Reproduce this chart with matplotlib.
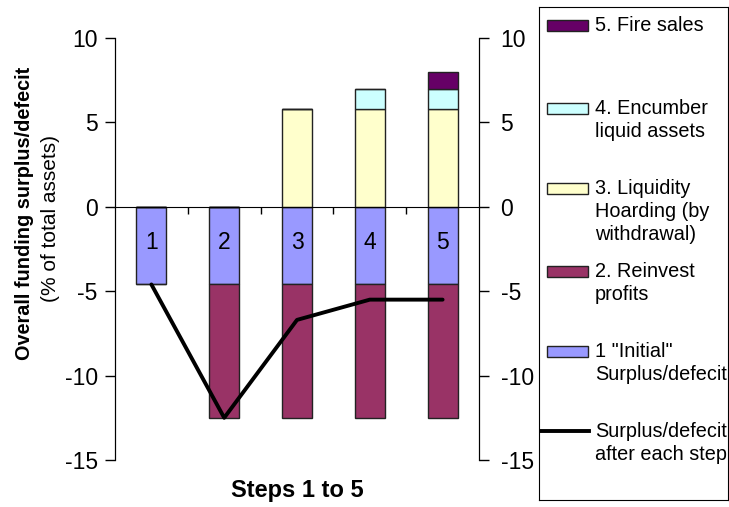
#
# Funding surplus/defecit after each step - stacked bars with running line
#

import matplotlib
matplotlib.use('Agg')
import numpy as np
import matplotlib.pyplot as plt
from matplotlib.patches import Rectangle
from matplotlib.lines import Line2D

plt.rc('font', family=['Liberation Sans', 'DejaVu Sans'])
plt.rc('axes', unicode_minus=False)

# Data (% of total assets)
steps = [1, 2, 3, 4, 5]
initial = [-4.6, -4.6, -4.6, -4.6, -4.6]
reinvest = [0.0, -7.9, -7.9, -7.9, -7.9]
hoarding = [0.0, 0.0, 5.8, 5.8, 5.8]
encumber = [0.0, 0.0, 0.0, 1.2, 1.2]
fire_sales = [0.0, 0.0, 0.0, 0.0, 1.0]
after_step = [-4.6, -12.5, -6.7, -5.5, -5.5]

series_labels = ['5. Fire sales', '4. Encumber\nliquid assets',
                 '3. Liquidity\nHoarding (by\nwithdrawal)', '2. Reinvest\nprofits',
                 '1 "Initial"\nSurplus/defecit']
line_label = 'Surplus/defecit\nafter each step'
colors = ['#660066', '#CCFFFF', '#FFFFCC', '#993366', '#9999FF']

W, H = 729, 507
fig = plt.figure(figsize=(W / 100, H / 100), dpi=100)
ax = fig.add_axes([115 / W, 47 / H, 364 / W, 422 / H])

x = np.array(steps)
bw = 0.41
ec = '#222222'
ax.bar(x, initial, bw, color=colors[4], edgecolor=ec, linewidth=1, zorder=2)
ax.bar(x, reinvest, bw, bottom=initial, color=colors[3], edgecolor=ec, linewidth=1, zorder=2)
ax.bar(x, hoarding, bw, color=colors[2], edgecolor=ec, linewidth=1, zorder=2)
bottom4 = np.array(hoarding)
ax.bar(x, encumber, bw, bottom=bottom4, color=colors[1], edgecolor=ec, linewidth=1, zorder=2)
bottom5 = bottom4 + np.array(encumber)
ax.bar(x, fire_sales, bw, bottom=bottom5, color=colors[0], edgecolor=ec, linewidth=1, zorder=2)
ax.plot(x, after_step, color='black', linewidth=2.8, zorder=4, solid_capstyle='round')

# step numbers inside the initial bars
for xi, v in zip(x, initial):
    ax.text(xi, v / 2 + 0.2, str(xi), ha='center', va='center', fontsize=16.5, zorder=3)

ax.set_xlim(0.5, 5.5)
ax.set_ylim(-15, 10)
ax.set_yticks([-15, -10, -5, 0, 5, 10])
ax.spines['top'].set_visible(False)
ax.spines['bottom'].set_position(('data', 0))
ax.spines['bottom'].set_zorder(3)
ax.set_xticks([1.5, 2.5, 3.5, 4.5])
ax.set_xticklabels([])
ax.tick_params(axis='x', direction='out', length=5, width=1)
ax.tick_params(axis='y', direction='out', length=7, width=1, labelsize=16.5, pad=5.5)

# right hand copy of the axis
ax2 = ax.twinx()
ax2.set_ylim(-15, 10)
ax2.set_yticks([-15, -10, -5, 0, 5, 10])
ax2.spines['top'].set_visible(False)
ax2.spines['bottom'].set_visible(False)
ax2.tick_params(axis='y', direction='out', length=7, width=1, labelsize=16.5, pad=8.5)

fig.text(297 / W, 1 - 491 / H, 'Steps 1 to 5', ha='center', va='center',
         fontsize=17, fontweight='bold')
fig.text(25 / W, 1 - 213 / H, 'Overall funding surplus/defecit', rotation=90,
         ha='center', va='center', fontsize=14.3, fontweight='bold')
fig.text(51 / W, 1 - 218 / H, '(% of total assets)', rotation=90,
         ha='center', va='center', fontsize=15)

# legend drawn as its own boxed panel
lax = fig.add_axes([539 / W, 7 / H, 189 / W, 493 / H])
lax.set_xlim(0, 189)
lax.set_ylim(493, 0)
lax.set_xticks([])
lax.set_yticks([])
for s in lax.spines.values():
    s.set_linewidth(0.8)
ys = [18, 101, 181, 264, 344, 424]
for yy, lab, col in zip(ys[:5], series_labels, colors):
    lax.add_patch(Rectangle((8, yy - 5), 41, 11, facecolor=col, edgecolor=ec, linewidth=1))
    lax.text(56, yy - 9, lab, ha='left', va='top', fontsize=14.3, linespacing=1.25)
lax.add_line(Line2D([2, 50], [ys[5], ys[5]], color='black', linewidth=2.8))
lax.text(56, ys[5] - 9, line_label, ha='left', va='top', fontsize=14.3, linespacing=1.25)

plt.savefig('out.png', dpi=100)
